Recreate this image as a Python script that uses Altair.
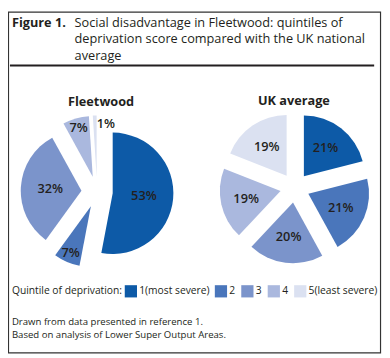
import altair as alt
import pandas as pd

# ---- data ----
groups = ["Fleetwood", "UK average"]
quintiles = ["1(most severe)", "2", "3", "4", "5(least severe)"]
fleetwood_pct = [53, 7, 32, 7, 1]
uk_pct = [21, 21, 20, 19, 19]
colors = ["#0d5aa7", "#4a76bb", "#7b94cb", "#aab8de", "#dbe1f1"]

title_bold = "Figure 1."
title_lines = ["Social disadvantage in Fleetwood: quintiles of",
               "deprivation score compared with the UK national",
               "average"]
notes = ["Drawn from data presented in reference 1.",
         "Based on analysis of Lower Super Output Areas."]

rows = []
for g, vals in zip(groups, [fleetwood_pct, uk_pct]):
    for i, (q, v) in enumerate(zip(quintiles, vals)):
        rows.append({"group": g, "quintile": q, "order": i + 1, "pct": v})
df = pd.DataFrame(rows)

FONT = "Open Sans"
INK = "#231f20"
R = 62

base = alt.Chart(df).transform_window(
    cum="sum(pct)", groupby=["group"], sort=[alt.SortField("order")], frame=[None, 0]
).transform_joinaggregate(
    total="sum(pct)", groupby=["group"]
).transform_calculate(
    a0="2*PI*(datum.cum-datum.pct)/datum.total",
    a1="2*PI*datum.cum/datum.total",
    cx="datum.group=='Fleetwood' ? 91 : 293",
    cy="datum.group=='Fleetwood' ? 184 : 180",
    ex="datum.group=='Fleetwood' ? 16 : 15",
).transform_calculate(
    mid="(datum.a0+datum.a1)/2",
).transform_calculate(
    px="datum.cx + datum.ex*sin(datum.mid)",
    py="datum.cy - datum.ex*cos(datum.mid)",
    la="datum.pct < 3 ? datum.mid + 0.16 : datum.mid",
    ld="datum.pct < 3 ? 70 : (datum.pct < 10 ? 68 : datum.ex + (datum.pct > 25 ? 32 : 36))",
    lab="datum.pct + '%'",
).transform_calculate(
    lx="datum.cx + datum.ld*sin(datum.la)",
    ly="datum.cy - datum.ld*cos(datum.la)",
)

arcs = base.mark_arc(radius=R, strokeWidth=0).encode(
    x=alt.X("px:Q", scale=None),
    y=alt.Y("py:Q", scale=None),
    theta=alt.Theta("a0:Q", scale=None),
    theta2=alt.Theta2("a1:Q"),
    color=alt.Color(
        "quintile:N",
        scale=alt.Scale(domain=quintiles, range=colors),
        legend=alt.Legend(
            title="Quintile of deprivation:",
            orient="none", legendX=4, legendY=279, padding=0,
            direction="horizontal", titleOrient="left",
            symbolType="square", symbolSize=156, symbolStrokeWidth=0,
            symbolOpacity=1,
            labelFont=FONT, labelFontSize=10.5, labelColor=INK,
            titleFont=FONT, titleFontSize=10.5, titleFontWeight="normal",
            titleColor=INK, titlePadding=2, labelOffset=2, columnPadding=5,
            titleBaseline="middle",
        ),
    ),
)

labels = base.mark_text(font=FONT, fontSize=13, fontWeight=600, color=INK,
                        baseline="middle", align="center").encode(
    x=alt.X("lx:Q", scale=None),
    y=alt.Y("ly:Q", scale=None),
    text="lab:N",
)

pie_titles = alt.Chart(pd.DataFrame({"group": groups})).transform_calculate(
    tx="datum.group=='Fleetwood' ? 95 : 292",
    ty="datum.group=='Fleetwood' ? 92 : 91",
).mark_text(font=FONT, fontSize=13, fontWeight="bold", color=INK, align="center").encode(
    x=alt.X("tx:Q", scale=None),
    y=alt.Y("ty:Q", scale=None),
    text="group:N",
)

one = pd.DataFrame({"a": [0]})
fig_label = alt.Chart(one).mark_text(
    text=title_bold, font=FONT, fontSize=13, fontWeight="bold", color=INK, align="left"
).encode(x=alt.value(4), y=alt.value(12))

title_df = pd.DataFrame({"line": title_lines, "i": list(range(len(title_lines)))})
fig_title = alt.Chart(title_df).transform_calculate(
    ty="12 + 16.5*datum.i"
).mark_text(font=FONT, fontSize=13, color=INK, align="left").encode(
    x=alt.value(68), y=alt.Y("ty:Q", scale=None), text="line:N"
)

notes_df = pd.DataFrame({"line": notes, "i": list(range(len(notes)))})
note = alt.Chart(notes_df).transform_calculate(
    ty="317 + 13.5*datum.i"
).mark_text(font=FONT, fontSize=9.8, color=INK, align="left").encode(
    x=alt.value(4), y=alt.Y("ty:Q", scale=None), text="line:N"
)

rule = alt.Chart(one).mark_rule(color=INK, strokeWidth=2).encode(
    x=alt.value(2), x2=alt.value(374), y=alt.value(55)
)
frame = alt.Chart(one).mark_rect(fill=None, stroke="#333333", strokeWidth=1.2).encode(
    x=alt.value(0.5), x2=alt.value(380.5), y=alt.value(0.5), y2=alt.value(348.5)
)

chart = alt.layer(frame, rule, fig_label, fig_title, pie_titles, arcs, labels, note).properties(
    width=382, height=350, autosize=alt.AutoSizeParams(type="none"), padding=0
).configure_view(strokeWidth=0)

chart.save("out.html", embed_options={"renderer": "svg", "actions": False})
